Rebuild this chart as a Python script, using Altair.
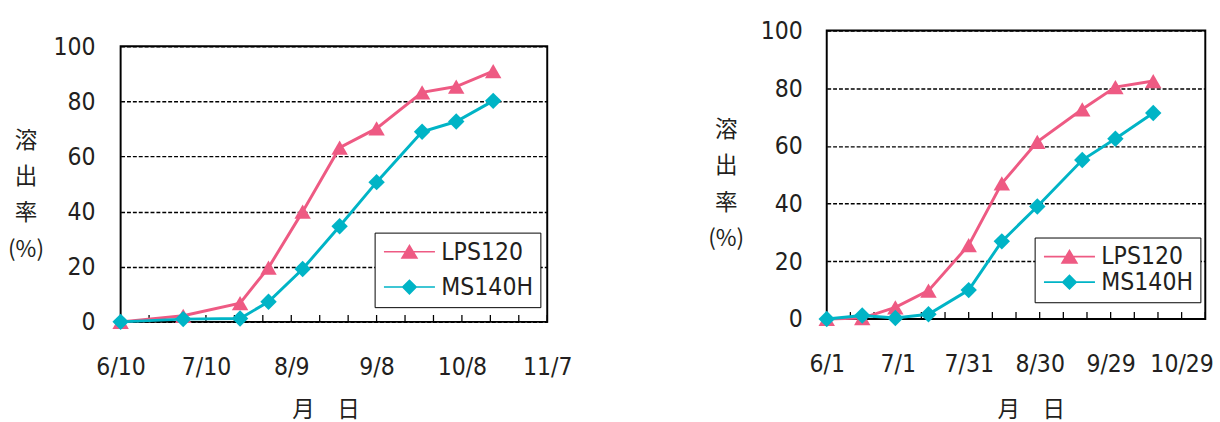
import altair as alt
import pandas as pd

YEAR = 2001
SERIES = ["LPS120", "MS140H"]
COLORS = ["#EE5A83", "#00B4C6"]
Y_TICKS = [0, 20, 40, 60, 80, 100]

# ---- left panel ----
left_dates = ["6/10", "7/2", "7/22", "8/1", "8/13", "8/26", "9/8", "9/24", "10/6", "10/19"]
left_lps = [0, 2.2, 6.8, 19.7, 40.0, 63.2, 70.2, 83.3, 85.4, 91.0]
left_ms = [0, 1.0, 1.2, 7.3, 19.2, 34.7, 50.7, 69.0, 72.7, 80.2]
left_tick_labels = ["6/10", "7/10", "8/9", "9/8", "10/8", "11/7"]
left_domain = ["6/10", "11/7"]

# ---- right panel ----
right_dates = ["6/1", "6/16", "6/30", "7/14", "7/31", "8/14", "8/29", "9/17", "10/1", "10/17"]
right_lps = [0, 0.3, 4.0, 9.8, 25.6, 47.0, 61.4, 72.7, 80.4, 82.5]
right_ms = [0, 1.2, 0.3, 1.6, 10.0, 26.9, 39.0, 55.1, 62.5, 71.4]
right_tick_labels = ["6/1", "7/1", "7/31", "8/30", "9/29", "10/29"]
right_domain = ["6/1", "11/8"]

Y_TITLE = ["溶", "出", "率", "(%)"]
X_TITLE = "月　日"

NUM_FONT = "DejaVu Sans Condensed"
NUM_SIZE = 25
CJK_FONT = "Noto Sans CJK JP"
TEXT_COLOR = "#231F20"

TRI_PATH = "M-1,-0.08 L4.2,-0.08 L4.2,0.08 L-1,0.08 Z M1.6,-0.78 L2.5,0.72 L0.7,0.72 Z"
DIA_PATH = "M-1,-0.08 L4.2,-0.08 L4.2,0.08 L-1,0.08 Z M1.6,-0.8 L2.4,0 L1.6,0.8 L0.8,0 Z"
LEGEND_SHAPE_EXPR = f"datum.value === 'LPS120' ? '{TRI_PATH}' : '{DIA_PATH}'"


def iso(md):
    m, d = md.split("/")
    return f"{YEAR}-{int(m):02d}-{int(d):02d}"


def ms(md):
    return int(pd.Timestamp(iso(md), tz="UTC").value // 10**6)


def panel(dates, lps, msv, tick_labels, domain, width, height,
          legend_xy, legend_rowpad, ytitle_xy, xtitle_xy, label_pad_y):
    rows = []
    for s, vals in zip(SERIES, [lps, msv]):
        for d, v in zip(dates, vals):
            rows.append({"date": iso(d), "value": v, "series": s})
    df = pd.DataFrame(rows)

    start = pd.Timestamp(iso(domain[0]))
    end = pd.Timestamp(iso(domain[1]))
    minor = pd.DataFrame({"date": [t.strftime("%Y-%m-%d") for t in pd.date_range(start, end, freq="10D")]})

    x_scale = alt.Scale(type="utc", domain=[ms(domain[0]), ms(domain[1])])
    y_scale = alt.Scale(domain=[0, 100], nice=False)

    x_axis = alt.Axis(
        values=[ms(t) for t in tick_labels],
        labelExpr="utcFormat(datum.value, '%-m/%-d')",
        ticks=False, domain=False, grid=False, labelFlush=False, labelOverlap=False,
        labelFont=NUM_FONT, labelFontSize=NUM_SIZE, labelColor=TEXT_COLOR, labelPadding=34,
        title=X_TITLE, titleFont=CJK_FONT, titleFontSize=23, titleFontWeight="normal",
        titleColor=TEXT_COLOR, titleX=xtitle_xy[0], titleY=xtitle_xy[1],
        titleAlign="center", titleBaseline="middle",
    )
    y_axis = alt.Axis(
        values=Y_TICKS, grid=True, gridColor="black", gridDash=[4, 2], gridWidth=1.4,
        ticks=False, domain=False, labelFont=NUM_FONT, labelFontSize=NUM_SIZE,
        labelColor=TEXT_COLOR, labelPadding=label_pad_y,
        title=Y_TITLE, titleAngle=0, titleFont=CJK_FONT, titleFontSize=23,
        titleFontWeight="normal", titleColor=TEXT_COLOR, titleLineHeight=37,
        titleX=ytitle_xy[0], titleY=ytitle_xy[1], titleAlign="center", titleBaseline="top",
    )
    X = alt.X("date:T", scale=x_scale, axis=x_axis)
    Y = alt.Y("value:Q", scale=y_scale, axis=y_axis)
    color_scale = alt.Scale(domain=SERIES, range=COLORS)

    base = alt.Chart(df)
    ticks = alt.Chart(minor).mark_rule(color="black", strokeWidth=1.3).encode(
        x=X, y=alt.value(height), y2=alt.value(height - 7),
    )
    line_layers = []
    for s, c in zip(SERIES, COLORS):
        line_layers.append(
            base.transform_filter(alt.datum.series == s)
            .mark_line(strokeWidth=3, color=c)
            .encode(x=X, y=Y)
        )
    legend = alt.Legend(
        title=None, orient="none", legendX=legend_xy[0], legendY=legend_xy[1],
        labelFont=NUM_FONT, labelFontSize=NUM_SIZE, labelColor=TEXT_COLOR, labelOffset=36,
        symbolSize=400, symbolStrokeWidth=0, rowPadding=legend_rowpad,
        symbolType={"expr": LEGEND_SHAPE_EXPR},
        padding=7, strokeColor="black", fillColor="white",
    )
    points = base.mark_point(filled=True, size=280, opacity=1).encode(
        x=X, y=Y,
        color=alt.Color("series:N", scale=color_scale, legend=legend),
        shape=alt.Shape("series:N", scale=alt.Scale(range=["triangle-up", "diamond"]), legend=None),
    )
    return alt.layer(ticks, *line_layers, points).properties(width=width, height=height)


left = panel(left_dates, left_lps, left_ms, left_tick_labels, left_domain, 435, 281,
             legend_xy=(259, 206), legend_rowpad=10, ytitle_xy=(-97, 85), xtitle_xy=(209, 90),
             label_pad_y=26)
right = panel(right_dates, right_lps, right_ms, right_tick_labels, right_domain, 386, 294,
              legend_xy=(212, 211), legend_rowpad=0, ytitle_xy=(-103, 90), xtitle_xy=(208, 93),
              label_pad_y=25)

# invisible spacer that lowers the left panel below the right one
spacer = alt.Chart(pd.DataFrame({"v": [0]})).mark_text().encode(
    text=alt.value(""), x=alt.value(0), y=alt.value(0)
).properties(width=435, height=1, view=alt.ViewBackground(stroke="transparent"))

left_col = alt.vconcat(spacer, left, spacing=-3)

chart = (
    alt.hconcat(left_col, right, spacing=135)
    .resolve_scale(color="independent", shape="independent")
    .resolve_legend(color="independent", shape="independent")
    .properties(padding={"left": 6, "top": 14, "right": 5, "bottom": 0})
    .configure_view(stroke="black", strokeWidth=2)
)

chart.save("out.html", embed_options={"renderer": "svg", "actions": False})
